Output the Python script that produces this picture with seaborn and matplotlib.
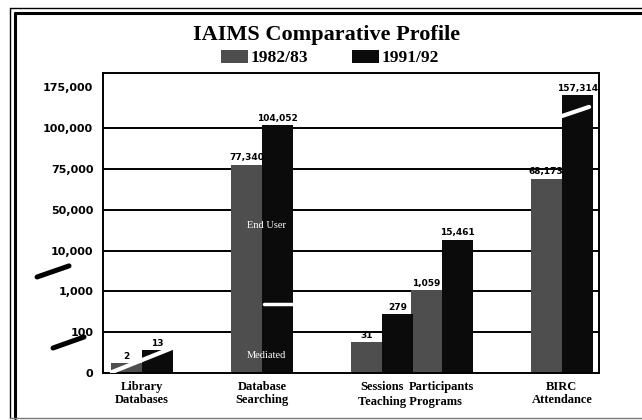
import numpy as np
import pandas as pd
import matplotlib
matplotlib.use("Agg")
from matplotlib import pyplot as plt
from matplotlib.patches import Patch
from matplotlib.lines import Line2D
import seaborn as sns

years = ['1982/83', '1991/92']
positions = [0, 1, 2, 2.5, 3.5]
groups = ['Library\nDatabases', 'Database\nSearching', 'Sessions', 'Participants', 'BIRC\nAttendance']
values_8283 = [2, 77340, 31, 1059, 68173]
values_9192 = [13, 104052, 279, 15461, 157314]
y_ticks = [0, 100, 1000, 10000, 50000, 75000, 100000, 175000]
y_tick_labels = ['0', '100', '1,000', '10,000', '50,000', '75,000', '100,000', '175,000']
colors = {'1982/83': '#4e4e4e', '1991/92': '#0b0b0b'}

# broken y axis: each tick step gets the same height, log spacing inside a step
g_ticks = np.log10(1 + np.array(y_ticks, dtype=float))
idx = np.arange(len(y_ticks), dtype=float)
last_step = g_ticks[-1] - g_ticks[-2]

def forward(v):
    g = np.log10(1 + np.clip(np.asarray(v, dtype=float), 0, None))
    out = np.interp(g, g_ticks, idx)
    return np.where(g > g_ticks[-1], idx[-1] + (g - g_ticks[-1]) / last_step, out)

def inverse(y):
    y = np.asarray(y, dtype=float)
    g = np.interp(y, idx, g_ticks)
    g = np.where(y > idx[-1], g_ticks[-1] + (y - idx[-1]) * last_step, g)
    return 10 ** g - 1

df = pd.DataFrame({'pos': positions * 2,
                   'year': np.repeat(years, len(positions)),
                   'value': values_8283 + values_9192})

sns.set_theme(style='white')
plt.rcParams.update({'text.color': 'black', 'xtick.color': 'black',
                     'ytick.color': 'black', 'axes.labelcolor': 'black'})
serif = 'Liberation Serif'
sans = 'DejaVu Sans'

fig = plt.figure(figsize=(6.42, 4.2), dpi=100)
ax = fig.add_axes([103/642, 47/420, 496/642, 300/420])

sns.barplot(data=df, x='pos', y='value', hue='year', native_scale=True,
            palette=colors, saturation=1, width=1.04, gap=0, errorbar=None,
            linewidth=0, legend=False, ax=ax, zorder=2)

ax.set_yscale('function', functions=(forward, inverse))
ax.set_ylim(0, float(inverse(7.35)))
ax.set_xlim(-0.325, 3.81)
ax.set_yticks(y_ticks)
ax.set_yticklabels(y_tick_labels, fontfamily=sans, fontweight='bold', fontsize=8, color='black')
ax.set_xticks(positions)
ax.set_xticklabels(groups, fontfamily=serif, fontweight='bold', fontsize=9,
                   linespacing=1.1, color='black')
ax.tick_params(axis='y', length=0, pad=7)
ax.tick_params(axis='x', length=0, pad=6)
ax.set_xlabel('')
ax.set_ylabel('')

for t in y_ticks[1:-1]:
    ax.axhline(t, color='black', lw=1.4, zorder=1)
for s in ax.spines.values():
    s.set_color('black')
    s.set_linewidth(1.4)
    s.set_zorder(3)

# value labels
for c in ax.containers:
    ax.bar_label(c, fmt='{:,.0f}', padding=1.5, fontsize=6.5,
                 fontweight='bold', fontfamily=sans, color='black')

ax.annotate('Teaching Programs', xy=(2.23, -0.097), xycoords=('data', 'axes fraction'),
            ha='center', va='center', fontfamily=serif, fontweight='bold', fontsize=9,
            color='black')

# break marks on the axis and bars
ax.plot([-0.133, -0.0685], [0.32, 0.357], color='black', lw=3.6,
        solid_capstyle='round', transform=ax.transAxes, clip_on=False)
ax.plot([-0.1008, -0.0383], [0.0833, 0.12], color='black', lw=3.6,
        solid_capstyle='round', transform=ax.transAxes, clip_on=False)
ax.plot([0.018, 0.145], [0.003, 0.087], color='white', lw=3, transform=ax.transAxes, zorder=4)
ax.plot([0.919, 0.980], [0.853, 0.887], color='white', lw=3, transform=ax.transAxes, zorder=4)
ax.plot([0.325, 0.385], [0.23, 0.23], color='white', lw=2.5, transform=ax.transAxes, zorder=4)
ax.text(0.33, 0.49, 'End User', color='white', ha='center', va='center', fontsize=7.5,
        fontfamily=serif, transform=ax.transAxes, zorder=4)
ax.text(0.33, 0.06, 'Mediated', color='white', ha='center', va='center', fontsize=7.5,
        fontfamily=serif, transform=ax.transAxes, zorder=4)

fig.text(327/642, 1 - 35/420, 'IAIMS Comparative Profile', ha='center', va='center',
         fontfamily=serif, fontweight='bold', fontsize=16, color='black')
handles = [Patch(facecolor=colors[y], edgecolor='none', label=y) for y in years]
leg = fig.legend(handles=handles, loc='center', bbox_to_anchor=(330/642, 1 - 58/420), ncol=2,
                 frameon=False, prop={'family': serif, 'weight': 'bold', 'size': 12.5},
                 handlelength=1.55, handleheight=0.86, handletextpad=0.15, columnspacing=2.5)
for t in leg.get_texts():
    t.set_color('black')

# double frame around the figure
W, H = 642, 420
def fline(xs, ys, lw, color='black'):
    fig.add_artist(Line2D([x / W for x in xs], [1 - y / H for y in ys], lw=lw, color=color,
                          transform=fig.transFigure))
fline([10, W], [7.5, 7.5], 1.0)
fline([10, 10], [7.5, 418], 1.0)
fline([14.5, W], [13, 13], 2.2)
fline([14.5, 14.5], [13, 418], 2.2)
fline([10, W], [418, 418], 1.0, '#777777')

fig.savefig('out.png', dpi=100)
